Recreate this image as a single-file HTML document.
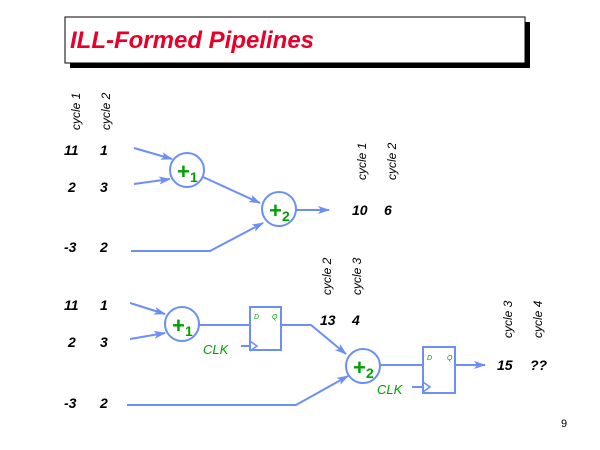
<!DOCTYPE html>
<html><head><style>body{margin:0;background:#fff}svg{display:block}</style></head><body>
<svg width="600" height="450" xmlns="http://www.w3.org/2000/svg" font-family="Liberation Sans, sans-serif">
<defs><marker id="a" markerWidth="12" markerHeight="8" refX="11" refY="4" orient="auto" markerUnits="userSpaceOnUse"><path d="M0,0 L12,4 L0,8 L3,4Z" fill="#6b8ff5"/></marker></defs>
<rect x="70" y="22" width="460" height="46" fill="#000"/>
<rect x="65" y="17" width="460" height="46" fill="#fff" stroke="#000" stroke-width="1"/>
<text x="70" y="48" font-size="24" font-weight="bold" font-style="italic" fill="#e8002a">ILL-Formed Pipelines</text>
<g font-size="14" font-style="italic" font-weight="bold" fill="#000">
<text transform="translate(80,130) rotate(-90)" font-size="12" font-weight="normal">cycle 1</text>
<text transform="translate(110,130) rotate(-90)" font-size="12" font-weight="normal">cycle 2</text>
<text x="64" y="155">11</text><text x="100" y="155">1</text>
<text x="68" y="192">2</text><text x="100" y="192">3</text>
<text x="64" y="252">-3</text><text x="100" y="252">2</text>
<text transform="translate(366,180) rotate(-90)" font-size="12" font-weight="normal">cycle 1</text>
<text transform="translate(396,180) rotate(-90)" font-size="12" font-weight="normal">cycle 2</text>
<text x="352" y="215">10</text><text x="384" y="215">6</text>
<text transform="translate(331,295) rotate(-90)" font-size="12" font-weight="normal">cycle 2</text>
<text transform="translate(361,295) rotate(-90)" font-size="12" font-weight="normal">cycle 3</text>
<text x="320" y="325">13</text><text x="352" y="325">4</text>
<text x="64" y="310">11</text><text x="100" y="310">1</text>
<text x="68" y="347">2</text><text x="100" y="347">3</text>
<text x="64" y="408">-3</text><text x="100" y="408">2</text>
<text transform="translate(512,338) rotate(-90)" font-size="12" font-weight="normal">cycle 3</text>
<text transform="translate(542,338) rotate(-90)" font-size="12" font-weight="normal">cycle 4</text>
<text x="497" y="370">15</text><text x="530" y="370">??</text>
</g>
<text x="561" y="427" font-size="11" fill="#000">9</text>
<g stroke="#6b8ff5" stroke-width="2" fill="none">
<path d="M134,148 L172,159" marker-end="url(#a)"/>
<path d="M134,184 L170,179" marker-end="url(#a)"/>
<path d="M203,177 L260,203" marker-end="url(#a)"/>
<path d="M131,251 L210,251 L263,223" marker-end="url(#a)"/>
<path d="M296,210 L329,210" marker-end="url(#a)"/>
<circle cx="187" cy="170" r="17"/>
<circle cx="279" cy="209" r="17"/>
<path d="M130,303 L165,314" marker-end="url(#a)"/>
<path d="M130,339 L165,333" marker-end="url(#a)"/>
<circle cx="182" cy="324" r="17"/>
<path d="M199,325 L250,325"/>
<rect x="250" y="307" width="31" height="43"/>
<path d="M281,325 L311,325 L346,354" marker-end="url(#a)"/>
<path d="M241,346 L250,346"/>
<path d="M127,405 L296,405 L348,376" marker-end="url(#a)"/>
<circle cx="363" cy="366" r="17"/>
<path d="M380,365 L423,365"/>
<rect x="423" y="347" width="32" height="46"/>
<path d="M455,365 L485,365" marker-end="url(#a)"/>
<path d="M412,387 L423,387"/>
</g>
<g stroke="#6b8ff5" stroke-width="1.5" fill="none">
<path d="M250,341 L257,346 L250,351"/>
<path d="M423,382 L430,387 L423,392"/>
</g>
<g fill="#00a000" font-weight="bold">
<text x="177" y="179" font-size="22">+</text><text x="190" y="182" font-size="14">1</text>
<text x="269" y="218" font-size="22">+</text><text x="282" y="221" font-size="14">2</text>
<text x="172" y="333" font-size="22">+</text><text x="185" y="336" font-size="14">1</text>
<text x="353" y="375" font-size="22">+</text><text x="366" y="378" font-size="14">2</text>
</g>
<g fill="#00a000" font-style="italic">
<text x="203" y="354" font-size="13">CLK</text>
<text x="377" y="394" font-size="13">CLK</text>
<text x="254" y="319" font-size="7">D</text><text x="272" y="319" font-size="7">Q</text>
<text x="427" y="360" font-size="7">D</text><text x="447" y="360" font-size="7">Q</text>
</g>
</svg>
</body></html>
